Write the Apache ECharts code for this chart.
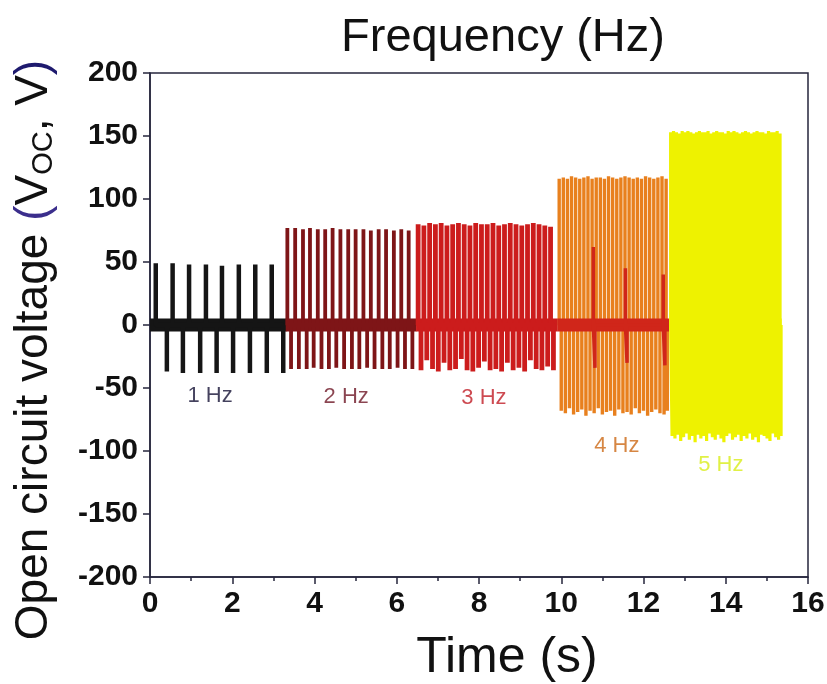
<!DOCTYPE html>
<html><head><meta charset="utf-8">
<script src="https://cdn.jsdelivr.net/npm/echarts/dist/echarts.min.js"></script>
<style>html,body{margin:0;padding:0;background:#fff}#c{width:827px;height:684px}</style>
</head><body><div id="c"></div>
<script>
// ---------- data ----------
const xTickMin = 0, xTickMax = 16, xTickStep = 2;
const yTickMin = -200, yTickMax = 200, yTickStep = 50;

// 1 Hz section
const s1PosT = [0.14, 0.55, 0.95, 1.36, 1.75, 2.16, 2.56, 2.96];
const s1PosV = [49, 49, 48, 48, 47, 48, 48, 48];
const s1NegT = [0.41, 0.80, 1.22, 1.62, 2.02, 2.43, 2.84, 3.24];
const s1NegV = [-37, -38, -38, -38, -38, -38, -38, -38];
const s1Band = [0.0, 3.32];

// 2 Hz section
const s2PosT = [3.34, 3.53, 3.72, 3.89, 4.08, 4.26, 4.44, 4.63, 4.82, 5.00, 5.19, 5.37, 5.56, 5.74, 5.93, 6.11, 6.29];
const s2PosV = [77, 77, 76, 77, 76, 76, 77, 76, 76, 76, 76, 75, 76, 76, 75, 76, 75];
const s2NegT = [3.43, 3.62, 3.81, 3.98, 4.17, 4.35, 4.53, 4.72, 4.91, 5.09, 5.28, 5.46, 5.65, 5.83, 6.02, 6.20, 6.38];
const s2NegV = [-35, -35, -35, -34, -35, -35, -34, -35, -35, -35, -34, -35, -35, -35, -34, -35, -35];
const s2Band = [3.30, 6.48];

// 3 Hz section
const s3PosT = [6.52, 6.66, 6.80, 6.94, 7.08, 7.22, 7.36, 7.50, 7.64, 7.78, 7.92, 8.06, 8.20, 8.34, 8.48, 8.62, 8.76, 8.90, 9.04, 9.18, 9.32, 9.46, 9.60, 9.74];
const s3PosV = [80, 79, 81, 80, 81, 79, 80, 81, 80, 79, 81, 80, 80, 81, 79, 80, 81, 80, 79, 80, 81, 80, 79, 78];
const s3NegT = [6.59, 6.73, 6.87, 7.01, 7.15, 7.29, 7.43, 7.57, 7.71, 7.85, 7.99, 8.13, 8.27, 8.41, 8.55, 8.69, 8.83, 8.97, 9.11, 9.25, 9.39, 9.53, 9.67, 9.81];
const s3NegV = [-36, -28, -35, -37, -30, -36, -35, -27, -36, -37, -34, -29, -36, -35, -37, -30, -36, -34, -37, -28, -35, -36, -33, -36];
const s3Band = [6.47, 9.90];

// 4 Hz section
const s4PosT = [9.95, 10.05, 10.15, 10.25, 10.35, 10.45, 10.55, 10.65, 10.75, 10.85, 10.95, 11.05, 11.15, 11.25, 11.35, 11.45, 11.55, 11.65, 11.75, 11.85, 11.95, 12.05, 12.15, 12.25, 12.35, 12.45, 12.55];
const s4PosV = [116, 117, 116, 118, 117, 116, 117, 118, 116, 117, 117, 116, 118, 117, 116, 117, 118, 117, 116, 117, 116, 118, 117, 116, 117, 118, 116];
const s4NegT = [10.00, 10.10, 10.20, 10.30, 10.40, 10.50, 10.60, 10.70, 10.80, 10.90, 11.00, 11.10, 11.20, 11.30, 11.40, 11.50, 11.60, 11.70, 11.80, 11.90, 12.00, 12.10, 12.20, 12.30, 12.40, 12.50, 12.58];
const s4NegV = [-68, -70, -66, -71, -69, -67, -72, -68, -70, -66, -71, -69, -68, -72, -67, -70, -69, -71, -66, -70, -68, -72, -69, -67, -70, -71, -68];
const s4InPosT = [10.78, 11.56, 12.48];
const s4InPosV = [62, 45, 40];
const s4InNegT = [10.82, 11.60, 12.52];
const s4InNegV = [-34, -30, -32];
const s4Band = [9.90, 12.62];

// 5 Hz section
const s5PosT = [12.66, 12.73, 12.80, 12.87, 12.94, 13.01, 13.08, 13.15, 13.22, 13.29, 13.36, 13.43, 13.50, 13.57, 13.64, 13.71, 13.78, 13.85, 13.92, 13.99, 14.06, 14.13, 14.20, 14.27, 14.34, 14.41, 14.48, 14.55, 14.62, 14.69, 14.76, 14.83, 14.90, 14.97, 15.04, 15.11, 15.18, 15.25, 15.32];
const s5PosV = [153, 154, 153, 152, 154, 153, 154, 153, 152, 153, 154, 153, 153, 154, 152, 153, 154, 153, 153, 152, 154, 153, 154, 153, 152, 153, 154, 153, 152, 153, 154, 153, 153, 152, 154, 153, 153, 154, 152];
const s5NegT = [12.695, 12.765, 12.835, 12.905, 12.975, 13.045, 13.115, 13.185, 13.255, 13.325, 13.395, 13.465, 13.535, 13.605, 13.675, 13.745, 13.815, 13.885, 13.955, 14.025, 14.095, 14.165, 14.235, 14.305, 14.375, 14.445, 14.515, 14.585, 14.655, 14.725, 14.795, 14.865, 14.935, 15.005, 15.075, 15.145, 15.215, 15.285, 15.345];
const s5NegV = [-88, -90, -87, -92, -89, -86, -91, -88, -93, -87, -90, -88, -92, -86, -89, -91, -87, -90, -93, -88, -86, -91, -89, -87, -92, -88, -90, -86, -91, -89, -93, -87, -88, -90, -92, -86, -89, -91, -88];
const s5Band = [12.63, 15.36];

// frequency labels
const freqLabels = ['1 Hz', '2 Hz', '3 Hz', '4 Hz', '5 Hz'];
const freqLabelT = [1.46, 4.77, 8.12, 11.35, 13.88];
const freqLabelV = [-56, -57, -58, -96, -111];

// ---------- styles ----------
const FONT = '"Liberation Sans", Arial, Helvetica, sans-serif';
const colors = ['#151515', '#7e1517', '#cc1c1c', '#e8801e', '#eef200'];
const bandColors = ['#151515', '#7e1517', '#cc1c1c', '#d0261a', '#eef200'];
const labelColors = ['#161336', '#6e1626', '#c01d26', '#cc6814', '#d8ec18'];
const axisColor = '#26263c';

function spikes(posT, posV, negT, negV) {
  const all = [];
  posT.forEach((t, i) => all.push([t, posV[i]]));
  negT.forEach((t, i) => all.push([t, negV[i]]));
  all.sort((a, b) => a[0] - b[0]);
  const pts = [];
  all.forEach(([t, v]) => { pts.push([t, 0], [t, v], [t, 0]); });
  return pts;
}
function lineSeries(data, color, width, z) {
  return {
    type: 'line', data: data, symbol: 'none', silent: true, z: z || 2,
    lineStyle: { color: color, width: width, join: 'bevel', cap: 'butt' },
    animation: false
  };
}
function band(b) { return [[b[0], 0], [b[1], 0]]; }

const series = [
  lineSeries(band(s1Band), bandColors[0], 13, 2),
  lineSeries(spikes(s1PosT, s1PosV, s1NegT, s1NegV), colors[0], 4.5, 2),
  lineSeries(band(s2Band), bandColors[1], 13, 3),
  lineSeries(spikes(s2PosT, s2PosV, s2NegT, s2NegV), colors[1], 3.8, 3),
  lineSeries(band(s3Band), bandColors[2], 13, 4),
  lineSeries(spikes(s3PosT, s3PosV, s3NegT, s3NegV), colors[2], 4.8, 4),
  lineSeries(spikes(s4PosT, s4PosV, s4NegT, s4NegV), colors[3], 3.4, 5),
  lineSeries(band(s4Band), bandColors[3], 13, 5),
  lineSeries(spikes(s4InPosT, s4InPosV, s4InNegT, s4InNegV), bandColors[3], 3.5, 5),
  lineSeries(band(s5Band), bandColors[4], 13, 6),
  lineSeries(spikes(s5PosT, s5PosV, s5NegT, s5NegV), colors[4], 3.2, 6),
  {
    type: 'scatter', symbolSize: 0, silent: true, z: 10, animation: false,
    data: freqLabelT.map((t, i) => ({
      value: [t, freqLabelV[i]], name: freqLabels[i],
      label: { color: labelColors[i] }
    })),
    label: {
      show: true, position: 'inside', formatter: p => p.name,
      fontFamily: FONT, fontSize: 22
    }
  }
];

const chart = echarts.init(document.getElementById('c'), null, { renderer: 'canvas' });
chart.setOption({
  backgroundColor: '#ffffff',
  animation: false,
  title: {
    text: 'Frequency (Hz)', left: 498, top: 10, textAlign: 'center',
    textStyle: { fontFamily: FONT, fontSize: 47, fontWeight: 'normal', color: '#111' }
  },
  grid: {
    left: 150, right: 19, top: 73, bottom: 107, show: true,
    outerBoundsMode: 'none', containLabel: false,
    borderColor: axisColor, borderWidth: 1.5, backgroundColor: 'transparent'
  },
  xAxis: {
    type: 'value', min: xTickMin, max: xTickMax, interval: xTickStep,
    name: 'Time (s)', nameLocation: 'middle', nameGap: 56,
    nameTextStyle: { fontFamily: FONT, fontSize: 50, color: '#111', padding: [0, 0, 0, 56] },
    axisLine: { show: true, onZero: false, lineStyle: { color: axisColor, width: 1.5 } },
    axisTick: { show: true, length: 7, lineStyle: { color: axisColor, width: 1.5 } },
    minorTick: { show: true, splitNumber: 2, length: 4, lineStyle: { color: axisColor, width: 1.5 } },
    axisLabel: { fontFamily: FONT, fontSize: 30, fontWeight: 'bold', color: '#111', margin: 12 },
    splitLine: { show: false }
  },
  yAxis: {
    type: 'value', min: yTickMin, max: yTickMax, interval: yTickStep,
    name: '{b|Open circuit voltage }{p1|(}{b|V}{s|OC}{b|, V}{p2|)}',
    nameLocation: 'middle', nameGap: 92,
    nameTextStyle: {
      fontFamily: FONT, fontSize: 46, color: '#111', padding: [0, 50, 0, 0],
      rich: {
        b: { fontFamily: FONT, fontSize: 46, color: '#111' },
        p1: { fontFamily: FONT, fontSize: 46, color: '#3b2e8c' },
        p2: { fontFamily: FONT, fontSize: 46, color: '#1e1a6e' },
        s: { fontFamily: FONT, fontSize: 29, color: '#111', padding: [18, 0, 0, 0] }
      }
    },
    axisLine: { show: true, onZero: false, lineStyle: { color: axisColor, width: 1.5 } },
    axisTick: { show: true, length: 7, lineStyle: { color: axisColor, width: 1.5 } },
    axisLabel: { fontFamily: FONT, fontSize: 30, fontWeight: 'bold', color: '#111', margin: 12 },
    splitLine: { show: false }
  },
  series: series
});
</script>
</body></html>
